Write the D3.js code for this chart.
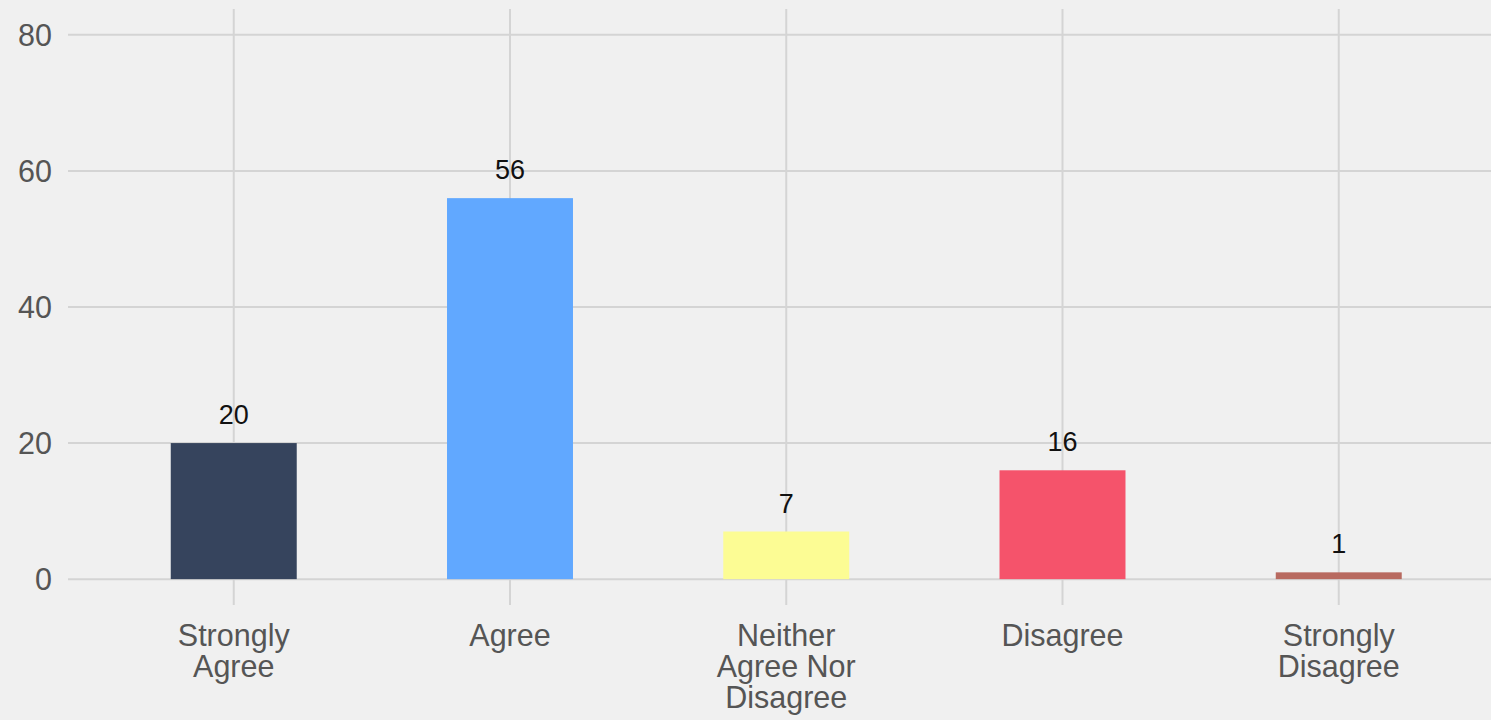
<!DOCTYPE html>
<html>
<head>
<meta charset="utf-8">
<script src="https://cdn.jsdelivr.net/npm/d3@7"></script>
<style>
  html, body { margin: 0; padding: 0; background: #f0f0f0; }
  svg { display: block; }
</style>
</head>
<body>
<svg id="chart" width="1491" height="720"></svg>
<script>
const categories = ["Strongly Agree", "Agree", "Neither Agree Nor Disagree", "Disagree", "Strongly Disagree"];
const categoryLines = [["Strongly", "Agree"], ["Agree"], ["Neither", "Agree Nor", "Disagree"], ["Disagree"], ["Strongly", "Disagree"]];
const values = [20, 56, 7, 16, 1];
const barColors = ["#36445d", "#61a8ff", "#fcfc94", "#f5536b", "#b86a60"];
const yTicks = [0, 20, 40, 60, 80];

const W = 1491, H = 720;
const plot = { left: 68, top: 9, bottom: 605 };
const svg = d3.select("#chart");
svg.append("rect").attr("width", W).attr("height", H).attr("fill", "#f0f0f0");

const x = d3.scaleLinear().domain([-0.6, categories.length - 0.4]).range([plot.left, 1504.5]);
const y = d3.scaleLinear().domain([-3.8, 83.8]).range([plot.bottom, plot.top]);
const barW = 0.456;

const grid = svg.append("g");
grid.selectAll("line.h").data(yTicks).join("line")
  .attr("x1", plot.left).attr("x2", W)
  .attr("y1", d => y(d)).attr("y2", d => y(d))
  .attr("stroke", "#d4d4d4").attr("stroke-width", 2);
grid.selectAll("line.v").data(categories).join("line")
  .attr("x1", (d, i) => x(i)).attr("x2", (d, i) => x(i))
  .attr("y1", plot.top).attr("y2", plot.bottom)
  .attr("stroke", "#d4d4d4").attr("stroke-width", 2);

svg.append("g").selectAll("rect").data(values).join("rect")
  .attr("x", (d, i) => x(i - barW / 2))
  .attr("width", (d, i) => x(i + barW / 2) - x(i - barW / 2))
  .attr("y", d => y(d))
  .attr("height", d => y(0) - y(d))
  .attr("fill", (d, i) => barColors[i]);

svg.append("g").selectAll("text").data(values).join("text")
  .attr("x", (d, i) => x(i))
  .attr("y", d => y(d) - 19)
  .attr("text-anchor", "middle")
  .attr("font-family", "Liberation Sans, Arial, sans-serif")
  .attr("font-size", 27)
  .attr("fill", "#111")
  .text(d => d);

// y tick labels
svg.append("g").selectAll("text").data(yTicks).join("text")
  .attr("x", 52)
  .attr("y", d => y(d))
  .attr("dy", "0.35em")
  .attr("text-anchor", "end")
  .attr("font-family", "Liberation Sans, Arial, sans-serif")
  .attr("font-size", 30.5)
  .attr("fill", "#555")
  .text(d => d);

// x tick labels
const xl = svg.append("g").selectAll("text").data(categoryLines).join("text")
  .attr("x", (d, i) => x(i))
  .attr("y", plot.bottom + 41)
  .attr("text-anchor", "middle")
  .attr("font-family", "Liberation Sans, Arial, sans-serif")
  .attr("font-size", 30.5)
  .attr("fill", "#555");
xl.selectAll("tspan").data(d => d).join("tspan")
  .attr("x", function() { return d3.select(this.parentNode).attr("x"); })
  .attr("dy", (d, j) => j === 0 ? 0 : 31)
  .text(d => d);
</script>
</body>
</html>
